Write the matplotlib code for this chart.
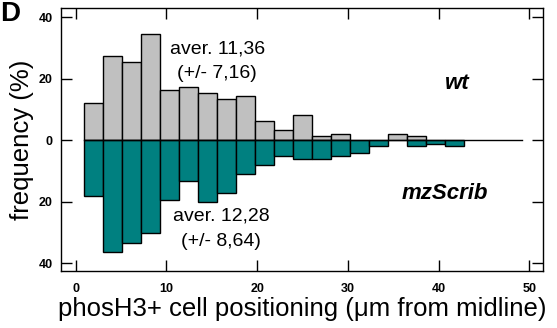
"""Histogram of phosH3+ cell positions, wt (up) vs mzScrib (down)."""

import numpy as np
import matplotlib.pyplot as plt
from matplotlib.ticker import FixedLocator, FuncFormatter

plt.rcParams["font.family"] = ["Liberation Sans", "DejaVu Sans"]

# bins (um from midline)
bin_start = 0.95
bin_width = 2.095
wt_freq = [12.0, 27.3, 25.5, 34.6, 16.4, 17.3, 15.3, 13.4, 14.3, 6.2,
           3.3, 8.1, 1.4, 2.0, 0.0, 0.0, 2.0, 1.3, 0.0, 0.0]
mz_freq = [18.0, 36.3, 33.4, 30.1, 19.3, 13.2, 20.0, 17.1, 11.1, 7.9,
           5.0, 6.0, 6.0, 5.0, 4.0, 2.0, 0.0, 2.0, 1.1, 2.0]
x_ticks = [0, 10, 20, 30, 40, 50]
y_ticks = [-40, -20, 0, 20, 40]

GREY = "#c0c0c0"
TEAL = "#008080"

fig = plt.figure(figsize=(5.57, 3.28), dpi=100)
ax = fig.add_axes([0.1095, 0.1738, 0.8659, 0.8009])

left = bin_start + bin_width * np.arange(len(wt_freq))
wt = np.array(wt_freq)
mz = np.array(mz_freq)

m = wt > 0
ax.bar(left[m], wt[m], width=bin_width, align="edge", color=GREY,
       edgecolor="black", linewidth=1.0, zorder=2)
m = mz > 0
ax.bar(left[m], -mz[m], width=bin_width, align="edge", color=TEAL,
       edgecolor="black", linewidth=1.0, zorder=2)

# zero line from the first bar out to ~49
ax.plot([bin_start, 49.2], [0, 0], color="black", lw=1.0, zorder=3)

ax.set_xlim(-1.62, 51.54)
ax.set_ylim(-42.5, 42.9)
ax.xaxis.set_major_locator(FixedLocator(x_ticks))
ax.yaxis.set_major_locator(FixedLocator(y_ticks))
ax.yaxis.set_major_formatter(FuncFormatter(lambda v, p: f"{abs(v):.0f}"))
ax.tick_params(direction="in", length=8, width=1.0, top=True, right=True,
               labelsize=9)
ax.tick_params(axis="x", pad=9)
ax.tick_params(axis="y", pad=6)
for lab in ax.get_xticklabels() + ax.get_yticklabels():
    lab.set_fontweight("bold")
for s in ax.spines.values():
    s.set_linewidth(1.0)

ax.set_xlabel("phosH3+ cell positioning (\u03bcm from midline)", fontsize=18.5,
              labelpad=1)
ax.set_ylabel("frequency (%)", fontsize=18.5, labelpad=3)

ax.text(15.6, 29.7, "aver. 11,36", ha="center", va="center", fontsize=14)
ax.text(15.6, 21.6, "(+/- 7,16)", ha="center", va="center", fontsize=14)
ax.text(16.0, -24.6, "aver. 12,28", ha="center", va="center", fontsize=14)
ax.text(16.0, -33.0, "(+/- 8,64)", ha="center", va="center", fontsize=14)
ax.text(42.1, 18.5, "wt", ha="center", va="center", fontsize=16,
        fontweight="bold", style="italic")
ax.text(40.7, -17.2, "mzScrib", ha="center", va="center", fontsize=16,
        fontweight="bold", style="italic")

# panel letter, kept just inside the top edge
fig.text(0.0, 0.935, "D", fontsize=20, fontweight="bold", va="baseline")

fig.savefig("out.png", dpi=100)
